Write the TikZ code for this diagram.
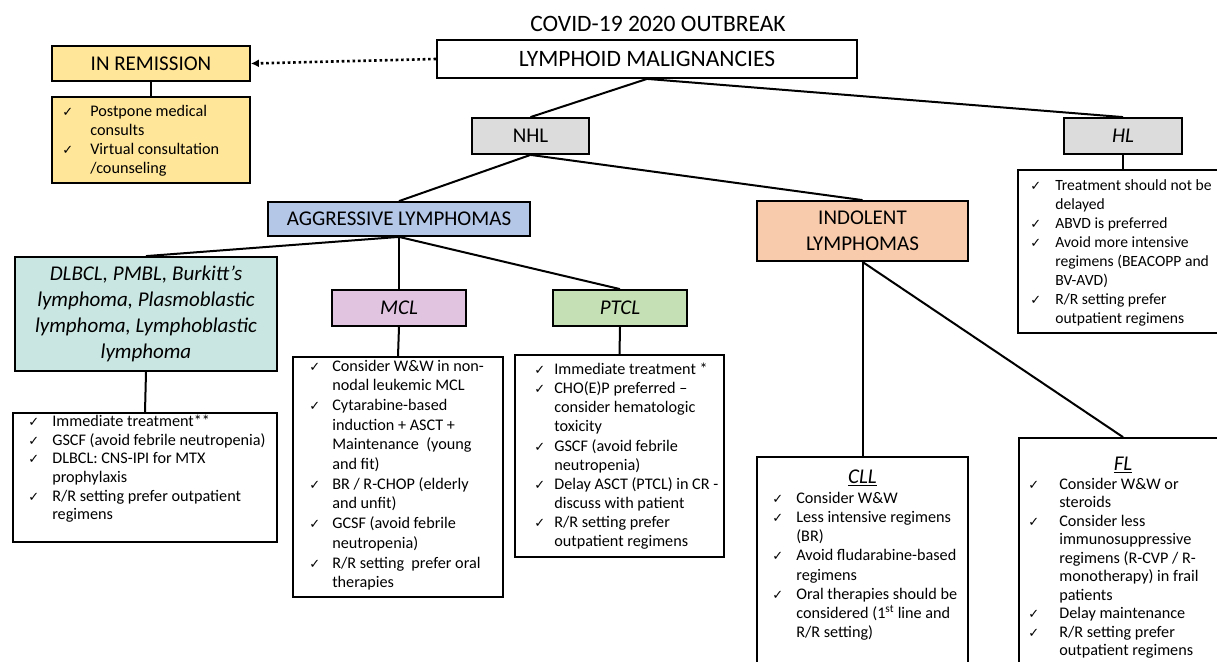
\documentclass[tikz,border=0pt]{standalone}
\usepackage{fontspec}
\setmainfont{Carlito}
\newfontfamily\dejavu{DejaVu Sans}
\usetikzlibrary{arrows.meta}
\definecolor{cRem}{HTML}{FFE699}
\definecolor{cGray}{HTML}{DCDCDC}
\definecolor{cAgg}{HTML}{B4C7E7}
\definecolor{cTeal}{HTML}{C9E6E2}
\definecolor{cMcl}{HTML}{E0C4E0}
\definecolor{cPtcl}{HTML}{C5E0B4}
\definecolor{cInd}{HTML}{F8CBAD}
\newcommand{\ck}{{\dejavu\fontsize{13}{13}\selectfont ✓}}
% #1 font size, #2 line spacing, #3 check column width, #4 rows
\newcommand{\clist}[4]{{\fontsize{#1}{#2}\selectfont\begin{tabular}{@{}p{#3}@{}l@{}}#4\end{tabular}}}
\begin{document}
\begin{tikzpicture}[x=1pt,y=-1pt,
  box/.style={draw, line width=1.8pt, inner sep=0pt, align=center},
  hdr/.style={font=\fontsize{21}{26}\selectfont},
  big/.style={font=\fontsize{23.5}{26}\selectfont},
  hdri/.style={font=\fontsize{21}{26}\selectfont\itshape},
  conn/.style={line width=2pt},
  txt/.style={anchor=north west, inner sep=0pt}]
\useasboundingbox (0,0) rectangle (1217,661);
\clip (0,0) rectangle (1217,661);

\node[big] (title) at (658,24) {COVID-19 2020 OUTBREAK};
\node[box,big,fill=white,minimum width=420pt,minimum height=38pt] (lm) at (647,59) {LYMPHOID MALIGNANCIES};

% remission
\node[box,hdr,fill=cRem,minimum width=198pt,minimum height=35pt] (rem) at (151,63.5) {IN REMISSION};
\node[box,fill=cRem,minimum width=198pt,minimum height=86pt] (remL) at (151,140) {};
\node[txt] (remT) at ([xshift=11pt,yshift=-7pt]remL.north west) {\clist{16.2}{19}{28pt}{\ck & Postpone medical\\ & consults\\ \ck & Virtual consultation\\ & /counseling}};

% NHL / HL
\node[box,hdr,fill=cGray,minimum width=117pt,minimum height=36pt] (nhl) at (530.5,136) {NHL};
\node[box,hdri,fill=cGray,minimum width=118pt,minimum height=36pt] (hl) at (1123,136) {HL};
\node[box,fill=white,minimum width=210pt,minimum height=163pt] (hlL) at (1123,251.5) {};
\node[txt] (hlT) at ([xshift=13pt,yshift=-8pt]hlL.north west) {\clist{15.6}{19}{25pt}{\ck & Treatment should not be\\ & delayed\\ \ck & ABVD is preferred\\ \ck & Avoid more intensive\\ & regimens (BEACOPP and\\ & BV-AVD)\\ \ck & R/R setting prefer\\ & outpatient regimens}};

% aggressive
\node[box,hdr,fill=cAgg,minimum width=262pt,minimum height=34pt] (agg) at (399,219) {AGGRESSIVE LYMPHOMAS};
\node[box,hdri,fill=cTeal,minimum width=262pt,minimum height=114pt] (dl) at (146,314) {DLBCL, PMBL, Burkitt’s\\ lymphoma, Plasmoblastic\\ lymphoma, Lymphoblastic\\ lymphoma};
\node[box,fill=white,minimum width=264pt,minimum height=129pt] (dlL) at (145,477.5) {};
\node[txt] (dlT) at ([xshift=16pt,yshift=-1pt]dlL.north west) {\clist{16.2}{18.7}{24pt}{\ck & Immediate treatment**\\ \ck & GSCF (avoid febrile neutropenia)\\ \ck & DLBCL: CNS-IPI for MTX\\ & prophylaxis\\ \ck & R/R setting prefer outpatient\\ & regimens}};

\node[box,hdri,fill=cMcl,minimum width=134pt,minimum height=36pt] (mcl) at (399,308) {MCL};
\node[box,fill=white,minimum width=210pt,minimum height=240pt] (mclL) at (398,477) {};
\node[txt] (mclT) at ([xshift=17pt,yshift=-1pt]mclL.north west) {\clist{16.2}{19.7}{23pt}{\ck & Consider W\&W in non-\\ & nodal leukemic MCL\\ \ck & Cytarabine-based\\ & induction + ASCT +\\ & Maintenance~ (young\\ & and fit)\\ \ck & BR / R-CHOP (elderly\\ & and unfit)\\ \ck & GCSF (avoid febrile\\ & neutropenia)\\ \ck & R/R setting~ prefer oral\\ & therapies}};

\node[box,hdri,fill=cPtcl,minimum width=134pt,minimum height=36pt] (ptcl) at (620,308) {PTCL};
\node[box,fill=white,minimum width=209pt,minimum height=202pt] (ptclL) at (619.5,456) {};
\node[txt] (ptclT) at ([xshift=20pt,yshift=-7pt]ptclL.north west) {\clist{16.2}{19.1}{20pt}{\ck & Immediate treatment *\\ \ck & CHO(E)P preferred –\\ & consider hematologic\\ & toxicity\\ \ck & GSCF (avoid febrile\\ & neutropenia)\\ \ck & Delay ASCT (PTCL) in CR -\\ & discuss with patient\\ \ck & R/R setting prefer\\ & outpatient regimens}};

% indolent
\node[box,hdr,fill=cInd,minimum width=211pt,minimum height=60pt] (ind) at (862.5,231) {INDOLENT\\ LYMPHOMAS};
\node[box,fill=white,minimum width=211pt,minimum height=243pt] (cll) at (862.5,578.5) {};
\node[hdri] (cllH) at (862.5,478) {\underline{CLL}};
\node[txt] (cllT) at ([xshift=16pt,yshift=-34pt]cll.north west) {\clist{16.2}{19.1}{24pt}{\ck & Consider W\&W\\ \ck & Less intensive regimens\\ & (BR)\\ \ck & Avoid fludarabine-based\\ & regimens\\ \ck & Oral therapies should be\\ & considered (1\textsuperscript{st} line and\\ & R/R setting)}};

\node[box,fill=white,minimum width=208pt,minimum height=262pt] (fl) at (1123,569) {};
\node[hdri] (flH) at (1123,465) {\underline{FL}};
\node[txt] (flT) at ([xshift=10pt,yshift=-39pt]fl.north west) {\clist{16.2}{18.5}{31pt}{\ck & Consider W\&W or\\ & steroids\\ \ck & Consider less\\ & immunosuppressive\\ & regimens (R-CVP / R-\\ & monotherapy) in frail\\ & patients\\ \ck & Delay maintenance\\ \ck & R/R setting prefer\\ & outpatient regimens}};

% connectors
\draw[conn] (lm.south) -- (nhl.north);
\draw[conn] (lm.south) -- (hl.north);
\draw[conn] (nhl.south) -- (agg.north);
\draw[conn] (nhl.south) -- (ind.north);
\draw[conn] (agg.south) -- (dl.north);
\draw[conn] (agg.south) -- (mcl.north);
\draw[conn] (agg.south) -- (ptcl.north);
\draw[conn] (dl.south) -- (dlL.north);
\draw[conn] (mcl.south) -- (mclL.north);
\draw[conn] (ptcl.south) -- (ptclL.north);
\draw[conn] (ind.south) -- (cll.north);
\draw[conn] (ind.south) -- (fl.north);
\draw[conn] (hl.south) -- (hlL.north);
\draw[conn] (rem.south) -- (remL.north);
\draw[dash pattern=on 2.6pt off 2.8pt, line width=2.6pt, -{Latex[length=8pt,width=8pt]}] (lm.west) -- (rem.east);
\end{tikzpicture}
\end{document}
